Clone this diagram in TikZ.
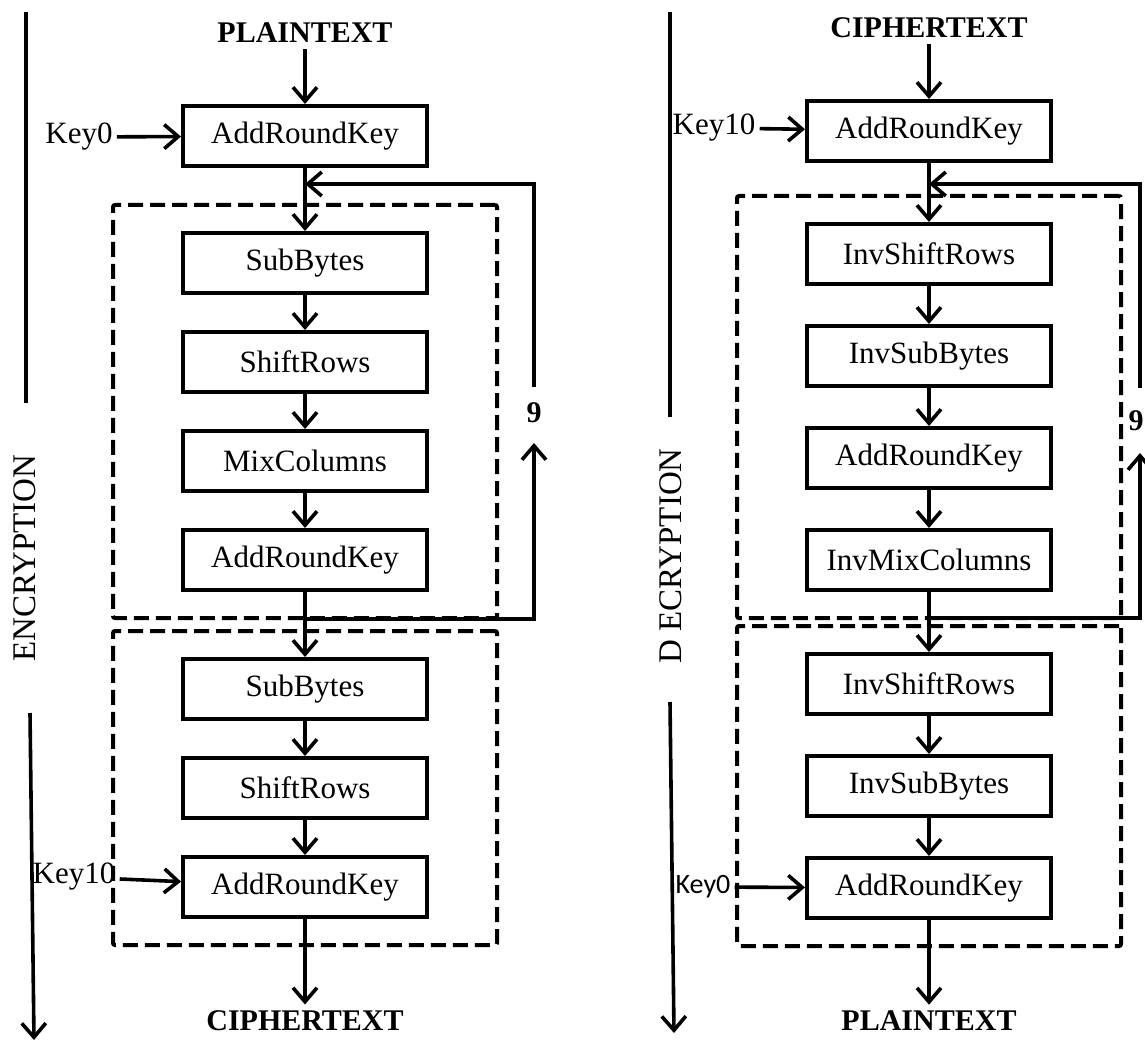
\documentclass[tikz,border=0pt]{standalone}
\usepackage{fontspec}
\setmainfont{Liberation Serif}
\newfontfamily\keyfont{Carlito}
\usetikzlibrary{arrows.meta,fit,positioning}

\begin{document}
\begin{tikzpicture}[x=0.5pt,y=-0.5pt,node distance=17.5pt,
  blk/.style={draw,rectangle,line width=2pt,minimum width=122pt,minimum height=30pt,font=\fontsize{15.5}{18}\selectfont},
  lbl/.style={font=\bfseries\fontsize{15}{18}\selectfont,inner sep=3pt},
  key/.style={font=\fontsize{15.5}{18}\selectfont,inner sep=2pt},
  side/.style={font=\fontsize{16.5}{18}\selectfont,rotate=90},
  rnd/.style={draw,dash pattern=on 7.5pt off 3.5pt,line width=2pt,rounded corners=1pt,inner xsep=34pt,inner ysep=13pt},
  arr/.style={-{Straight Barb[length=7pt,width=12pt]},line width=1.8pt},
  ln/.style={line width=1.8pt}]
\useasboundingbox (0,0) rectangle (1145,1043);

% encryption
\node[lbl] (pt) at (305,33) {PLAINTEXT};
\node[blk] (ark0) at (305,136) {AddRoundKey};
\node[key] (k0) at (79,137) {Key0};
\node[blk] (sb1) at (305,263) {SubBytes};
\node[blk,below=of sb1] (sr1) {ShiftRows};
\node[blk,below=of sr1] (mc1) {MixColumns};
\node[blk,below=of mc1] (ark1) {AddRoundKey};
\node[blk] (sb2) at (305,689) {SubBytes};
\node[blk,below=of sb2] (sr2) {ShiftRows};
\node[blk,below=of sr2] (ark2) {AddRoundKey};
\node[key] (k10) at (74,877) {Key10};
\node[lbl] (ct) at (305,1021) {CIPHERTEXT};
\node[rnd,fit=(sb1)(ark1)] (r1) {};
\node[rnd,fit=(sb2)(ark2)] (r2) {};
\node[lbl] (n1) at (534,413) {9};
\node[side] (enc) at (25,558) {ENCRYPTION};

\draw[arr] (pt) -- (ark0);
\draw[arr] (k0) -- (ark0);
\draw[arr] (ark0) -- (sb1);
\draw[arr] (sb1) -- (sr1);
\draw[arr] (sr1) -- (mc1);
\draw[arr] (mc1) -- (ark1);
\draw[arr] (ark1) -- (sb2);
\draw[arr] (sb2) -- (sr2);
\draw[arr] (sr2) -- (ark2);
\draw[arr] (k10) -- (ark2);
\draw[arr] (ark2) -- (ct);
% loop back, 9 rounds
\coordinate (la) at (534,619);
\coordinate (lb) at (534,443);
\coordinate (lc) at (534,387);
\coordinate (ld) at (534,184);
\draw[arr] (ark1.south |- la) -- (la) -- (lb);
\draw[arr] (lc) -- (ld) -- (ark0.south |- ld);
\coordinate (ea) at (26,12);
\coordinate (eb) at (26,403);
\coordinate (ec) at (30,713);
\coordinate (ed) at (34,1040);
\draw[ln] (ea) -- (eb);
\draw[arr] (ec) -- (ed);

% decryption
\begin{scope}[node distance=19pt]
\node[lbl] (ct2) at (929,28) {CIPHERTEXT};
\node[blk] (rk10) at (929,131) {AddRoundKey};
\node[key] (kd10) at (714,128) {Key10};
\node[blk] (isr1) at (929,254) {InvShiftRows};
\node[blk,below=of isr1] (isb1) {InvSubBytes};
\node[blk,below=of isb1] (ark3) {AddRoundKey};
\node[blk,below=of ark3] (imc) {InvMixColumns};
\node[blk] (isr2) at (929,684) {InvShiftRows};
\node[blk,below=of isr2] (isb2) {InvSubBytes};
\node[blk,below=of isb2] (ark4) {AddRoundKey};
\node[key,font=\keyfont\fontsize{14}{16}\selectfont] (kd0) at (703,887) {Key0};
\node[lbl] (pt2) at (929,1021) {PLAINTEXT};
\end{scope}
\node[rnd,fit=(isr1)(imc)] (r3) {};
\node[rnd,fit=(isr2)(ark4)] (r4) {};
\node[lbl,inner sep=1pt] (n2) at (1136,421) {9};
\node[side] (dec) at (671,556) {D ECRYPTION};

\draw[arr] (ct2) -- (rk10);
\draw[arr] (kd10) -- (rk10);
\draw[arr] (rk10) -- (isr1);
\draw[arr] (isr1) -- (isb1);
\draw[arr] (isb1) -- (ark3);
\draw[arr] (ark3) -- (imc);
\draw[arr] (imc) -- (isr2);
\draw[arr] (isr2) -- (isb2);
\draw[arr] (isb2) -- (ark4);
\draw[arr] (kd0) -- (ark4);
\draw[arr] (ark4) -- (pt2);
% loop back, 9 rounds
\coordinate (ma) at (1140,618);
\coordinate (mb) at (1140,453);
\coordinate (mc) at (1140,388);
\coordinate (md) at (1140,184);
\draw[arr] (imc.south |- ma) -- (ma) -- (mb);
\draw[arr] (mc) -- (md) -- (rk10.south |- md);
\coordinate (da) at (670,12);
\coordinate (db) at (670,417);
\coordinate (dc) at (670,702);
\coordinate (dd) at (674,1033);
\draw[ln] (da) -- (db);
\draw[arr] (dc) -- (dd);
\end{tikzpicture}
\end{document}
